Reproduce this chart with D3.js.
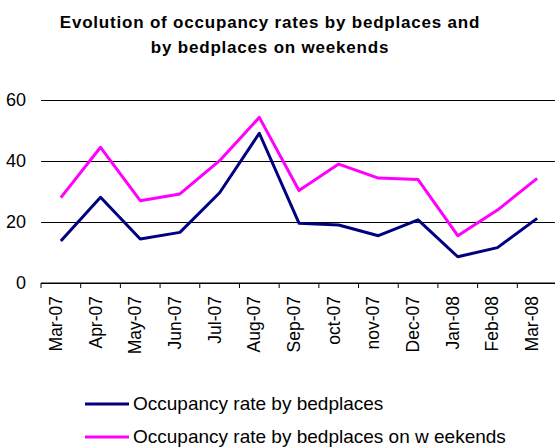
<!DOCTYPE html>
<html>
<head>
<meta charset="utf-8">
<script src="https://cdn.jsdelivr.net/npm/d3@7"></script>
<style>
  body { margin: 0; background: #fff; }
  svg { font-family: "Liberation Sans", Arial, sans-serif; }
</style>
</head>
<body>
<svg id="chart"></svg>
<script>
const months = ['Mar-07', 'Apr-07', 'May-07', 'Jun-07', 'Jul-07', 'Aug-07', 'Sep-07',
    'oct-07', 'nov-07', 'Dec-07', 'Jan-08', 'Feb-08', 'Mar-08'];
const byBedplaces = [13.8, 28.1, 14.4, 16.6, 29.6, 49.1, 19.6, 19.0, 15.5, 20.7, 8.6, 11.6, 21.2];
const byWeekends = [28.0, 44.5, 27.0, 29.2, 40.1, 54.3, 30.3, 39.0, 34.4, 33.9, 15.5, 23.9, 34.3];
const yTicks = [0, 20, 40, 60];
const seriesNames = ['Occupancy rate by bedplaces', 'Occupancy rate by bedplaces on w eekends'];
const titleLines = ['Evolution of occupancy rates by bedplaces and', 'by bedplaces on weekends'];

const width = 555, height = 447;
const margin = { top: 100, right: -2, bottom: 164, left: 41 };

const svg = d3.select('#chart')
    .attr('width', width)
    .attr('height', height);

// title
svg.append('g').selectAll('text')
    .data(titleLines)
    .join('text')
    .attr('x', 270)
    .attr('y', (d, i) => 28 + i * 25)
    .attr('text-anchor', 'middle')
    .attr('font-weight', 'bold')
    .attr('font-size', 17)
    .attr('letter-spacing', 0.8)
    .attr('fill', '#000')
    .text(d => d);

const xScale = d3.scaleBand()
    .domain(months)
    .range([margin.left, width - margin.right]);

const yScale = d3.scaleLinear()
    .domain([0, 60])
    .range([height - margin.bottom, margin.top]);

// gridlines + y labels
const yAxis = d3.axisLeft(yScale)
    .tickValues(yTicks)
    .tickSize(-(width - margin.right - margin.left))
    .tickPadding(15);
svg.append('g')
    .attr('transform', `translate(${margin.left},0)`)
    .call(yAxis)
    .call(g => g.select('.domain').remove())
    .call(g => g.selectAll('.tick line').attr('stroke', '#000').attr('stroke-width', 1))
    .call(g => g.selectAll('.tick text').attr('font-size', 18).attr('fill', '#000')
        .attr('font-family', '"Liberation Sans", Arial, sans-serif'));

// x axis with ticks at band boundaries
const xAxisG = svg.append('g')
    .attr('transform', `translate(0,${yScale(0)})`);
xAxisG.append('line')
    .attr('x1', margin.left).attr('x2', width)
    .attr('stroke', '#000');
xAxisG.selectAll('.bt')
    .data(months)
    .join('line')
    .attr('class', 'bt')
    .attr('x1', d => xScale(d)).attr('x2', d => xScale(d))
    .attr('y1', 0).attr('y2', 5)
    .attr('stroke', '#000');
xAxisG.selectAll('text')
    .data(months)
    .join('text')
    .attr('transform', d => `translate(${xScale(d) + xScale.bandwidth() / 2 + 1},13) rotate(-90)`)
    .attr('text-anchor', 'end')
    .attr('font-size', 17.5)
    .attr('fill', '#000')
    .text(d => d);

const line = d3.line()
    .x((d, i) => xScale(months[i]) + xScale.bandwidth() / 2)
    .y(d => yScale(d));

const colors = ['#000080', '#ff00ff'];
[byBedplaces, byWeekends].forEach((s, i) => {
    svg.append('path')
        .datum(s)
        .attr('fill', 'none')
        .attr('stroke', colors[i])
        .attr('stroke-width', 3)
        .attr('stroke-linejoin', 'round')
        .attr('d', line);
});

// legend
const legend = svg.append('g');
seriesNames.forEach((name, i) => {
    const y = 404 + i * 33;
    legend.append('line')
        .attr('x1', 85).attr('x2', 129)
        .attr('y1', y).attr('y2', y)
        .attr('stroke', colors[i])
        .attr('stroke-width', 3);
    legend.append('text')
        .attr('x', 133)
        .attr('y', y + 6)
        .attr('font-size', 19)
        .attr('fill', '#000')
        .text(name);
});
</script>
</body>
</html>
